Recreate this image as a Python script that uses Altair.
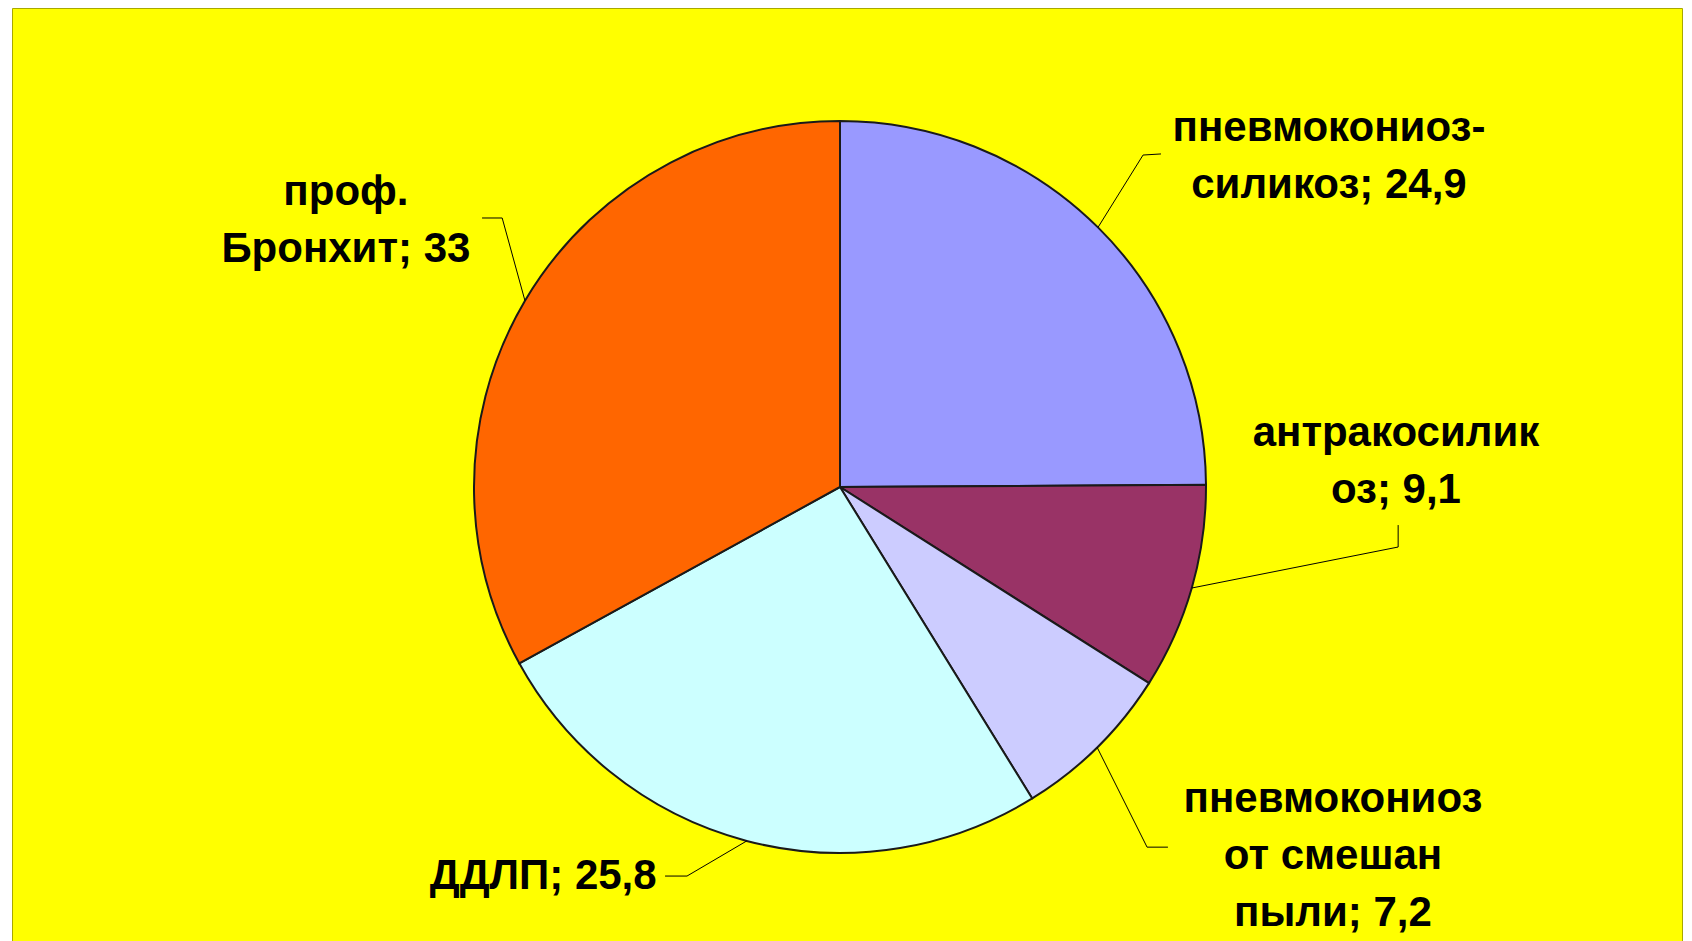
import math
import altair as alt
import pandas as pd

# ---- data ----
categories = ["пневмокониоз-силикоз", "антракосиликоз", "пневмокониоз от смешан пыли", "ДДЛП", "проф. Бронхит"]
values = [24.9, 9.1, 7.2, 25.8, 33.0]
label_lines = [
    ["пневмокониоз-", "силикоз; 24,9"],
    ["антракосилик", "оз; 9,1"],
    ["пневмокониоз", "от смешан", "пыли; 7,2"],
    ["ДДЛП; 25,8"],
    ["проф.", "Бронхит; 33"],
]
colors = ["#9999FF", "#993366", "#CCCCFF", "#CCFFFF", "#FF6600"]

# ---- layout (pixels / pie-radius units) ----
W, H = 1670, 933          # plot (view) area
CX, CY = 828, 479         # pie centre inside the view
R = 366                   # pie radius in px
LINE_H = 57               # label line height in px
# label block centres and leader elbows/ends, in pie-radius units (x right, y up)
label_pos = [(1.336, 0.904), (1.519, 0.071), (1.347, -1.008), (-0.811, -1.063), (-1.350, 0.727)]
leader_elbow = [(0.828, 0.907), (1.525, -0.164), (0.839, -0.984), (-0.418, -1.063), (-0.923, 0.735)]
leader_end = [(0.877, 0.910), (1.525, -0.104), (0.896, -0.984), (-0.478, -1.063), (-0.978, 0.735)]

xs = alt.Scale(domain=[-CX / R, (W - CX) / R], nice=False, zero=False)
ys = alt.Scale(domain=[-(H - CY) / R, CY / R], nice=False, zero=False)

pie_df = pd.DataFrame({
    "category": categories,
    "value": values,
    "idx": list(range(len(values))),
    "cx": 0.0,
    "cy": 0.0,
})

total = sum(values)
cum = 0.0
line_rows = []
label_rows = []
for i, v in enumerate(values):
    mid = (cum + v / 2) / total * 2 * math.pi
    cum += v
    pts = [(math.sin(mid), math.cos(mid)), leader_elbow[i], leader_end[i]]
    for k, (px, py) in enumerate(pts):
        line_rows.append({"category": categories[i], "k": k, "x": px, "y": py})
    n = len(label_lines[i])
    # Vega anchors the first line; shift up so the whole block is centred
    first_y = label_pos[i][1] + (n - 1) * LINE_H / 2 / R
    label_rows.append({"category": categories[i], "label": "\n".join(label_lines[i]),
                       "x": label_pos[i][0], "y": first_y})
line_df = pd.DataFrame(line_rows)
label_df = pd.DataFrame(label_rows)

pie = alt.Chart(pie_df).mark_arc(stroke="#1a1a1a", strokeWidth=2).encode(
    x=alt.X("cx:Q", scale=xs, axis=None),
    y=alt.Y("cy:Q", scale=ys, axis=None),
    theta=alt.Theta("value:Q", stack=True),
    order=alt.Order("idx:Q", sort="ascending"),
    color=alt.Color("category:N", scale=alt.Scale(domain=categories, range=colors), legend=None),
    radius=alt.value(R),
)

leaders = alt.Chart(line_df).mark_line(color="#000000", strokeWidth=1).encode(
    x=alt.X("x:Q", scale=xs, axis=None),
    y=alt.Y("y:Q", scale=ys, axis=None),
    detail="category:N",
    order=alt.Order("k:Q"),
)

labels = alt.Chart(label_df).mark_text(
    font="Liberation Sans", fontSize=42, fontWeight="bold", color="#000000",
    align="center", baseline="middle", lineBreak="\n", lineHeight=LINE_H,
).encode(
    x=alt.X("x:Q", scale=xs, axis=None),
    y=alt.Y("y:Q", scale=ys, axis=None),
    text="label:N",
)

chart = alt.layer(pie, leaders, labels).properties(
    width=W, height=H,
    autosize=alt.AutoSizeParams(type="none"),
    padding={"left": 12, "top": 8, "right": 10, "bottom": 0},
    background="#FFFFFF",
).configure_view(fill="#FFFF00", stroke="#A8A800", strokeWidth=1)

chart.save("out.html", embed_options={"renderer": "svg", "actions": False})
